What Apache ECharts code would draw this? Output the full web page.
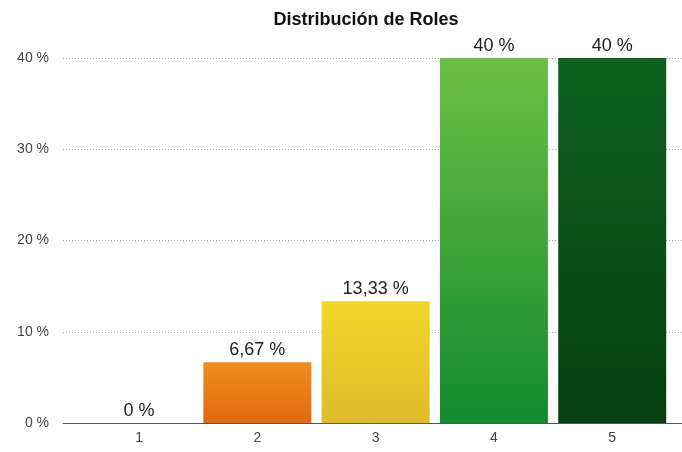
<!DOCTYPE html>
<html>
<head>
<meta charset="utf-8">
<script src="https://cdn.jsdelivr.net/npm/echarts@6/dist/echarts.min.js"></script>
<style>
  html, body { margin: 0; padding: 0; background: #fff; }
  #chart { width: 682px; height: 452px; }
</style>
</head>
<body>
<div id="chart"></div>
<script>
const categories = [1, 2, 3, 4, 5];
const values = [0, 6.67, 13.33, 40, 40];
const yTicks = [0, 10, 20, 30, 40];
// top / bottom colours of each bar
const barColors = [
  ["#f08c1e", "#e06a10"],
  ["#f08c1e", "#e06a10"],
  ["#f3d62b", "#dfbb2b"],
  ["#6dbf45", "#138a2e"],
  ["#0e6220", "#063f10"],
];

const fmt = (v) => String(v).replace(".", ",") + " %";

const chart = echarts.init(document.getElementById("chart"), null, {
  renderer: "canvas",
});
const option = {
  animation: false,
  textStyle: { fontFamily: "Liberation Sans, Arial, sans-serif" },
  title: {
    text: "Distribución de Roles",
    left: 361,
    textAlign: "center",
    top: 6,
    textStyle: { fontSize: 18, fontWeight: "bold", color: "#111" },
  },
  grid: { left: 63, right: 0, top: 58, bottom: 29 },
  xAxis: {
    type: "value",
    min: 0.357,
    max: 5.59,
    splitLine: { show: false },
    axisLine: { show: true, lineStyle: { color: "#555", width: 1 } },
    axisTick: { show: false },
    axisLabel: {
      customValues: categories,
      color: "#444",
      fontSize: 14,
      margin: 8,
      formatter: (v) => String(v),
    },
  },
  yAxis: {
    type: "value",
    min: 0,
    max: 40,
    interval: 10,
    axisLine: { show: false },
    axisTick: { show: false },
    axisLabel: {
      customValues: yTicks,
      color: "#444",
      fontSize: 14,
      margin: 14,
      formatter: (v) => v + " %",
    },
    splitLine: {
      lineStyle: { color: "#aaa", type: [1, 2], width: 1 },
    },
  },
  series: [
    {
      type: "bar",
      barWidth: 108,
      data: values.map((v, i) => ({
        value: [categories[i], v],
        itemStyle: {
          color: new echarts.graphic.LinearGradient(0, 0, 0, 1, [
            { offset: 0, color: barColors[i][0] },
            { offset: 1, color: barColors[i][1] },
          ]),
        },
      })),
      label: {
        show: true,
        position: "top",
        distance: 3,
        color: "#222",
        fontSize: 18,
        formatter: (p) => fmt(p.value[1]),
      },
    },
  ],
};
chart.setOption(option);
</script>
</body>
</html>
